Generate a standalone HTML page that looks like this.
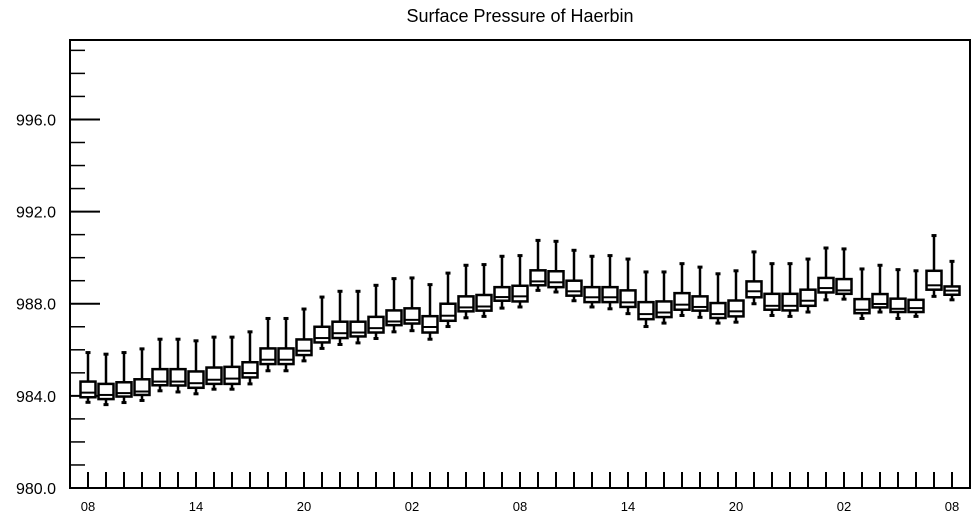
<!DOCTYPE html>
<html><head><meta charset="utf-8"><style>
html,body{margin:0;padding:0;background:#fff;}
svg{display:block;font-family:"Liberation Sans",Arial,sans-serif;}
</style></head><body>
<svg id="chart" width="975" height="518" viewBox="0 0 975 518">
<text x="520" y="22" text-anchor="middle" font-size="18">Surface Pressure of Haerbin</text>
<g id="axes"></g>
<g id="boxes"></g>
</svg>
<script>
const xLabels = ["08","14","20","02","08","14","20","02","08"];
const yTicks = [980,984,988,992,996];
const maxV = [985.88,985.81,985.88,986.04,986.46,986.46,986.39,986.55,986.55,986.78,987.36,987.36,987.77,988.29,988.54,988.54,988.80,989.09,989.12,988.83,989.33,989.67,989.70,990.06,990.09,990.75,990.71,990.32,990.06,990.09,989.94,989.38,989.38,989.74,989.59,989.30,989.43,990.25,989.74,989.74,989.94,990.42,990.38,989.51,989.67,989.48,989.43,990.96,989.84];
const q3V = [984.62,984.52,984.59,984.72,985.16,985.16,985.06,985.23,985.26,985.46,986.06,986.06,986.45,987.00,987.22,987.22,987.43,987.71,987.80,987.46,988.00,988.32,988.38,988.72,988.78,989.45,989.41,989.00,988.72,988.72,988.58,988.07,988.10,988.46,988.32,988.03,988.14,988.97,988.43,988.43,988.61,989.12,989.07,988.20,988.42,988.22,988.17,989.43,988.75];
const medV = [984.14,984.04,984.12,984.19,984.62,984.62,984.55,984.70,984.75,984.99,985.57,985.57,985.96,986.51,986.72,986.75,986.94,987.23,987.30,986.99,987.48,987.84,987.88,988.29,988.32,988.97,988.93,988.54,988.28,988.28,988.06,987.55,987.62,987.96,987.86,987.55,987.67,988.54,987.91,987.91,988.13,988.68,988.58,987.74,987.99,987.78,987.81,988.80,988.57];
const q1V = [983.94,983.86,983.97,984.04,984.46,984.45,984.35,984.52,984.52,984.80,985.38,985.38,985.77,986.32,986.51,986.58,986.75,987.07,987.14,986.75,987.26,987.67,987.70,988.13,988.10,988.80,988.72,988.35,988.07,988.07,987.86,987.33,987.42,987.74,987.70,987.38,987.45,988.28,987.74,987.71,987.91,988.49,988.43,987.59,987.84,987.64,987.64,988.61,988.39];
const minV = [983.72,983.62,983.71,983.80,984.22,984.17,984.09,984.29,984.29,984.52,985.09,985.09,985.52,986.06,986.23,986.30,986.49,986.78,986.83,986.46,987.01,987.39,987.45,987.81,987.86,988.58,988.51,988.13,987.86,987.78,987.57,987.01,987.16,987.49,987.41,987.16,987.20,988.00,987.49,987.45,987.64,988.17,988.20,987.36,987.64,987.36,987.45,988.32,988.17];

const X0=70,X1=970,Y0=40,Y1=488,YMIN=980,YMAX=999.45;
const xs = i => 88 + (i/48)*864;
const ys = v => Y1 - (v-YMIN)/(YMAX-YMIN)*(Y1-Y0);
const NS="http://www.w3.org/2000/svg";
function mk(tag, parent, attrs){const e=document.createElementNS(NS,tag);for(const k in attrs)e.setAttribute(k,attrs[k]);parent.appendChild(e);return e;}
const axes=document.getElementById('axes');
const frame=mk('rect',axes,{x:X0,y:Y0,width:X1-X0,height:Y1-Y0,fill:'none',stroke:'#000','stroke-width':2});


for(let v=981; v<=999; v++){
  if((v-980)%4===0) continue;
  const t=mk('line',axes,{x1:X0,x2:X0+15,y1:ys(v),y2:ys(v),stroke:'#000','stroke-width':1.5});
  
  
}
yTicks.forEach(v=>{
  const t=mk('line',axes,{x1:X0,x2:X0+30,y1:ys(v),y2:ys(v),stroke:'#000','stroke-width':2});
  
  
  const l=mk('text',axes,{x:56,y:ys(v)+6,'text-anchor':'end','font-size':16});
  l.textContent=v.toFixed(1);
  
  
});
for(let i=0;i<=48;i++){
  const t=mk('line',axes,{x1:xs(i),x2:xs(i),y1:Y1,y2:Y1-16,stroke:'#000','stroke-width':2});
  
  
}
xLabels.forEach((s,k)=>{
  const l=mk('text',axes,{x:xs(k*6),y:511,'text-anchor':'middle','font-size':13});
  l.textContent=s;
  
  
});
const boxes=document.getElementById('boxes');
const W=15;
medV.forEach((m,i)=>{
  const g=mk('g',boxes,{stroke:'#000',fill:'none','stroke-width':2.5});
  
  
  const x=xs(i);
  mk('line',g,{x1:x,x2:x,y1:ys(maxV[i]),y2:ys(q3V[i])});
  mk('line',g,{x1:x-2.5,x2:x+2.5,y1:ys(maxV[i]),y2:ys(maxV[i]),'stroke-width':3});
  mk('line',g,{x1:x,x2:x,y1:ys(q1V[i]),y2:ys(minV[i])});
  mk('line',g,{x1:x-2.5,x2:x+2.5,y1:ys(minV[i]),y2:ys(minV[i]),'stroke-width':3});
  mk('rect',g,{x:x-W/2,y:ys(q3V[i]),width:W,height:Math.max(1,ys(q1V[i])-ys(q3V[i])),fill:'#fff'});
  mk('line',g,{x1:x-W/2,x2:x+W/2,y1:ys(m),y2:ys(m),'stroke-width':2});
});
</script>
</body></html>
